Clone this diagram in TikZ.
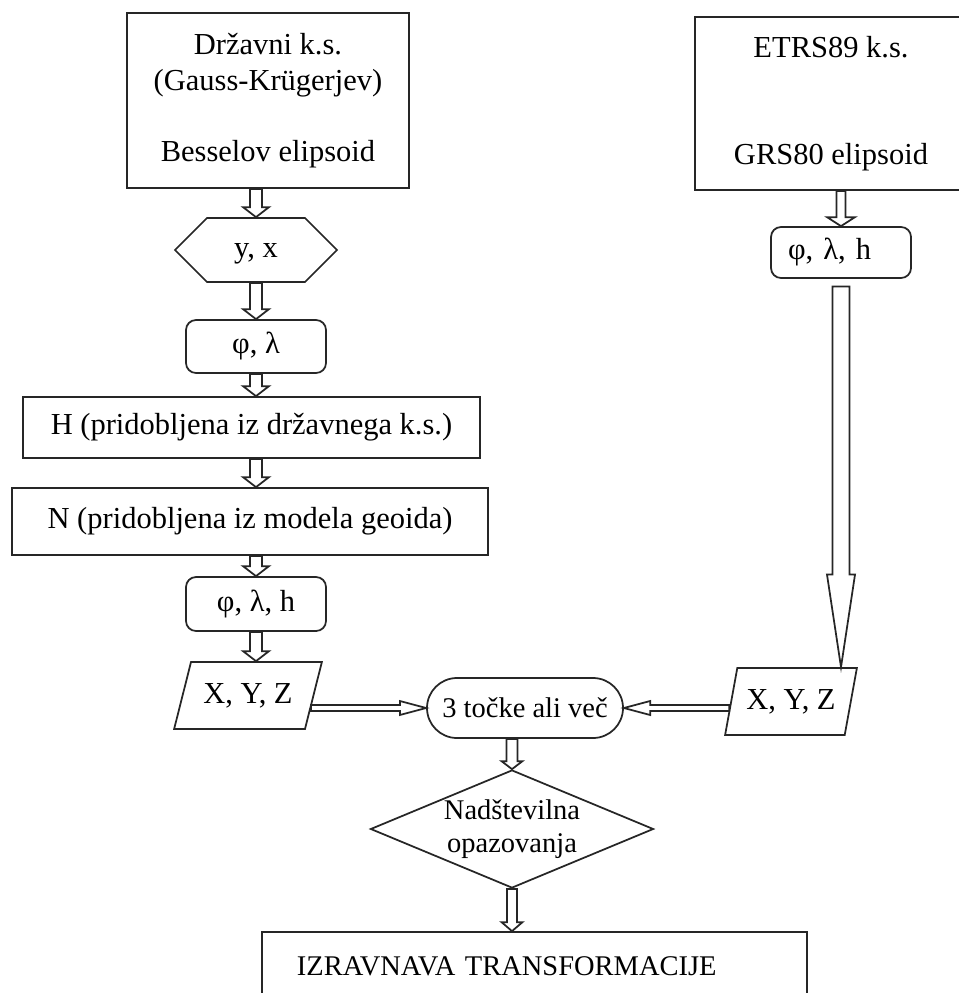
\documentclass[tikz,border=0pt]{standalone}
\usepackage{fontspec}
\setmainfont{Liberation Serif}
\usetikzlibrary{shapes.geometric,shapes.symbols,shapes.misc,calc}

\tikzset{
  shaftw/.store in=\shaftw, headw/.store in=\headw, headl/.store in=\headl,
  shaftw=2.4pt, headw=5.2pt, headl=4pt,
  flowline/.style={draw=black!85, line width=0.7pt, fill=white, line join=miter}
}
\newcommand{\flowarrow}[3][]{%
  \begin{scope}[#1]
    \coordinate (fs) at #2;
    \coordinate (ft) at #3;
    \coordinate (fh) at ($(ft)!\headl!(fs)$);
    \draw[flowline] ($(fs)!\shaftw!90:(ft)$) -- ($(fh)!\shaftw!90:(ft)$)
      -- ($(fh)!\headw!90:(ft)$) -- (ft) -- ($(fh)!\headw!-90:(ft)$)
      -- ($(fh)!\shaftw!-90:(ft)$) -- ($(fs)!\shaftw!-90:(ft)$) -- cycle;
  \end{scope}}

\begin{document}
\begin{tikzpicture}[x=0.4pt,y=-0.4pt]
	\path[use as bounding box, clip] (0,0) rectangle (959,993);

	\begin{scope}[every node/.style={draw=black!85, line width=0.7pt, inner sep=2pt,
	                                 font=\fontsize{12.2}{14.2}\selectfont},
	              box/.style={rectangle},
	              rbox/.style={rectangle, rounded corners=4pt},
	              hexa/.style={signal, signal to=east and west, signal pointer angle=90},
	              para/.style={trapezium, trapezium stretches=true},
	              stadium/.style={rounded rectangle},
	              small/.style={font=\fontsize{11.4}{13.2}\selectfont}]
	    \node[box, minimum width=112.8pt, minimum height=70pt, align=center] (gk) at (268,100.5)
	        {Državni k.s.\\(Gauss-Krügerjev)\\[14.2pt]Besselov elipsoid};
	    \node[box, minimum width=108.8pt, minimum height=69.2pt, align=center] (etrs) at (831,103.5)
	        {ETRS89 k.s.\\[28.4pt]GRS80 elipsoid};
	    \node[hexa, text depth=0pt, minimum width=64.8pt, minimum height=25.6pt] (yx) at (256,250) {y, x};
	    \node[rbox, minimum width=56pt, minimum height=21.2pt] (fl) at (256,346.5) {φ, λ};
	    \node[box, minimum width=182.8pt, minimum height=24.4pt] (hgt) at (251.5,427.5)
	        {H (pridobljena iz državnega k.s.)};
	    \node[box, minimum width=190.4pt, minimum height=26.8pt] (und) at (250,521.5)
	        {N (pridobljena iz modela geoida)};
	    \node[rbox, minimum width=56pt, minimum height=21.6pt] (flh) at (256,604) {φ, λ, h};
	    \node[para, trapezium left angle=67, trapezium right angle=113,
	          minimum width=59.2pt, minimum height=26.8pt] (xyzl) at (248,695.5) {X, Y, Z};
	    \node[rbox, inner xsep=6.8pt, text width=42.4pt, align=left,
	          minimum height=20.4pt] (rflh) at (841,252.5) {φ, λ, h};
	    \node[para, trapezium left angle=72, trapezium right angle=108,
	          minimum width=52.8pt, minimum height=26.8pt] (xyzr) at (791,701.5) {X, Y, Z};
	    \node[stadium, small, minimum width=82.4pt, minimum height=24pt] (pts) at (525,708)
	        {3 točke ali več};
	    \node[diamond, small, aspect=2.4, inner sep=-2pt, minimum width=113.2pt,
	          minimum height=47.2pt, align=center] (nad) at (512,829) {Nadštevilna\\opazovanja};
	    \node[box, small, inner xsep=14pt, text width=190pt, align=left,
	          minimum height=27.2pt] (izr) at (534.5,966) {IZRAVNAVA TRANSFORMACIJE};
	\end{scope}

	\flowarrow{(gk.south -| yx.north)}{(yx.north)}
	\flowarrow{(yx.south)}{(fl.north)}
	\flowarrow{(fl.south)}{(hgt.north -| fl.south)}
	\flowarrow{(hgt.south -| fl.south)}{(und.north -| fl.south)}
	\flowarrow{(und.south -| flh.north)}{(flh.north)}
	\flowarrow{(flh.south)}{(xyzl.north -| flh.south)}
	\flowarrow[shaftw=1.8pt, headw=5.6pt, headl=3.6pt]{(etrs.south -| rflh.north)}{(rflh.north)}
	\flowarrow[shaftw=3.4pt, headw=5.6pt, headl=37pt]{([yshift=-3pt]rflh.south)}{(rflh.south |- xyzr.north)}
	\flowarrow[shaftw=1.2pt, headw=2.8pt, headl=10.5pt]{(pts.west -| xyzl.-12)}{(pts.west)}
	\flowarrow[shaftw=1.2pt, headw=2.8pt, headl=10.5pt]{(pts.east -| xyzr.185)}{(pts.east)}
	\flowarrow[shaftw=2.2pt, headw=4.2pt, headl=3.2pt]{(pts.south -| nad.north)}{(nad.north)}
	\flowarrow[shaftw=2pt, headw=4.2pt, headl=3.6pt]{(nad.south)}{(izr.north -| nad.south)}
\end{tikzpicture}
\end{document}
